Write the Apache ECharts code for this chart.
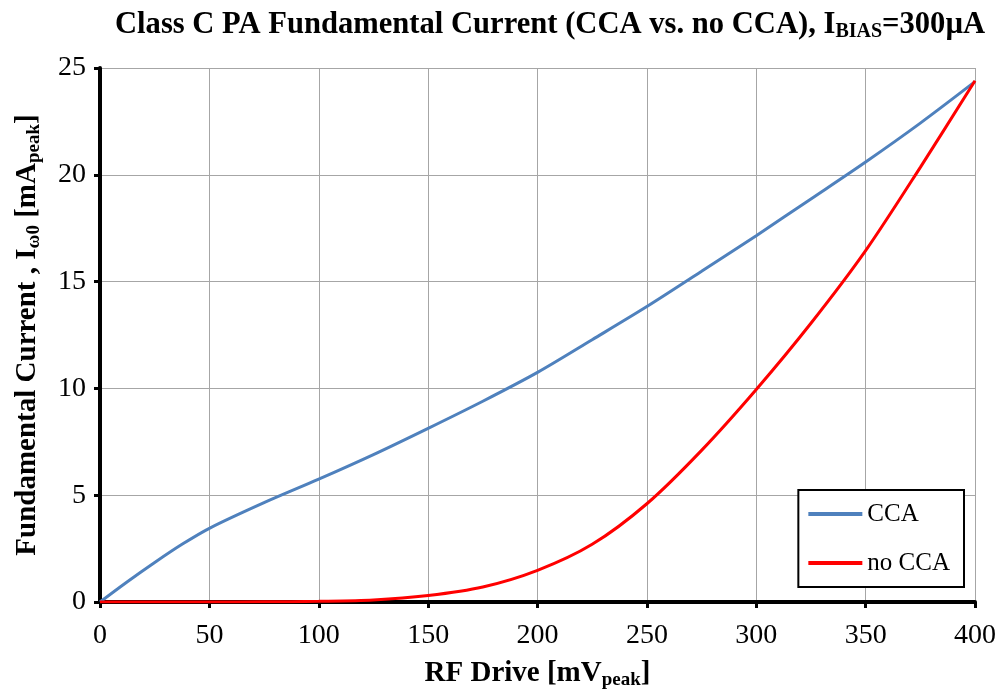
<!DOCTYPE html>
<html>
<head>
<meta charset="utf-8">
<script src="https://cdn.jsdelivr.net/npm/echarts@6/dist/echarts.min.js"></script>
<style>
  html, body { margin: 0; padding: 0; background: #fff; }
  #main { width: 1001px; height: 698px; }
</style>
</head>
<body>
<div id="main"></div>
<script>
// RF drive (mV peak)
var driveCCA = [0, 12.5, 25, 37.5, 50, 75, 100, 125, 150, 175, 200, 225, 250, 275, 300, 325, 350, 375, 400];
var currentCCA = [0, 0.95, 1.85, 2.7, 3.45, 4.65, 5.75, 6.9, 8.13, 9.4, 10.75, 12.28, 13.83, 15.48, 17.15, 18.87, 20.6, 22.42, 24.36];

var driveNoCCA = [0, 50, 75, 100, 125, 150, 175, 200, 225, 250, 275, 300, 325, 350, 375, 400];
var currentNoCCA = [0, 0, 0.01, 0.03, 0.09, 0.3, 0.7, 1.48, 2.7, 4.6, 7.1, 9.95, 13.05, 16.45, 20.35, 24.4];

var seriesNames = ['CCA', 'no CCA'];
var xTicks = { min: 0, max: 400, interval: 50 };
var yTicks = { min: 0, max: 25, interval: 5 };

var font = 'Liberation Serif';

function pairs(xs, ys) {
    return xs.map(function (x, i) { return [x, ys[i]]; });
}

var chart = echarts.init(document.getElementById('main'));

chart.setOption({
    backgroundColor: '#fff',
    animation: false,
    title: {
        text: 'Class C PA Fundamental Current (CCA vs. no CCA), I{s|BIAS}=300µA',
        left: 110,
        top: 4,
        textStyle: {
            fontFamily: font,
            fontWeight: 'bold',
            fontSize: 30.6,
            color: '#000',
            rich: {
                s: { fontFamily: font, fontWeight: 'bold', fontSize: 20, color: '#000', padding: [13, 0, 0, 0] }
            }
        }
    },
    legend: {
        data: seriesNames,
        orient: 'vertical',
        right: 37,
        bottom: 111,
        backgroundColor: '#fff',
        borderColor: '#000',
        borderWidth: 2,
        padding: [9, 14, 9, 10],
        itemGap: 19,
        itemWidth: 54,
        itemHeight: 4,
        icon: 'rect',
        textStyle: { fontFamily: font, fontSize: 25, lineHeight: 30, color: '#000' }
    },
    grid: { left: 100, right: 26, top: 68, bottom: 96 },
    xAxis: {
        type: 'value',
        min: xTicks.min,
        max: xTicks.max,
        interval: xTicks.interval,
        name: 'RF Drive [mV{s|peak}]',
        nameLocation: 'middle',
        nameGap: 56,
        nameTextStyle: {
            fontFamily: font, fontWeight: 'bold', fontSize: 29, color: '#000',
            rich: { s: { fontFamily: font, fontWeight: 'bold', fontSize: 19, color: '#000', padding: [13, 0, 0, 0] } }
        },
        axisLine: { lineStyle: { color: '#000', width: 4 } },
        axisTick: { inside: false, length: 6, lineStyle: { color: '#000', width: 3 } },
        axisLabel: { fontFamily: font, fontSize: 28, color: '#000', margin: 20 },
        splitLine: { show: true, lineStyle: { color: '#a6a6a6', width: 1 } }
    },
    yAxis: {
        type: 'value',
        min: yTicks.min,
        max: yTicks.max,
        interval: yTicks.interval,
        name: 'Fundamental Current , I{s|ω0} [mA{s|peak}]',
        nameLocation: 'middle',
        nameGap: 56,
        nameTextStyle: {
            fontFamily: font, fontWeight: 'bold', fontSize: 29, color: '#000',
            rich: { s: { fontFamily: font, fontWeight: 'bold', fontSize: 19, color: '#000', padding: [13, 0, 0, 0] } }
        },
        axisLine: { show: true, lineStyle: { color: '#000', width: 4 } },
        axisTick: { show: true, inside: false, length: 6, lineStyle: { color: '#000', width: 3 } },
        axisLabel: { fontFamily: font, fontSize: 28, color: '#000', margin: 14 },
        splitLine: { show: true, lineStyle: { color: '#a6a6a6', width: 1 } }
    },
    series: [
        {
            name: seriesNames[0],
            type: 'line',
            data: pairs(driveCCA, currentCCA),
            smooth: 0.3,
            showSymbol: false,
            lineStyle: { color: '#4f81bd', width: 3 },
            itemStyle: { color: '#4f81bd' },
            z: 3
        },
        {
            name: seriesNames[1],
            type: 'line',
            data: pairs(driveNoCCA, currentNoCCA),
            smooth: 0.3,
            showSymbol: false,
            lineStyle: { color: '#ff0000', width: 3 },
            itemStyle: { color: '#ff0000' },
            z: 4
        }
    ]
});
</script>
</body>
</html>
